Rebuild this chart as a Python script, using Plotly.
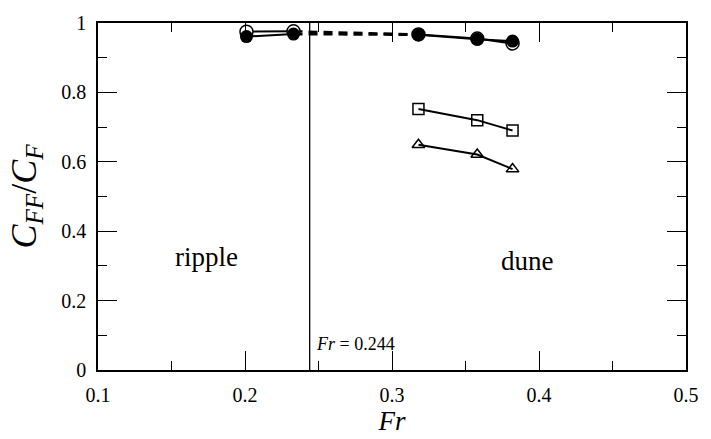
import plotly.graph_objects as go

# Data
fr_low = [0.201, 0.233]
fr_high = [0.318, 0.358, 0.382]
filled_low = [0.961, 0.968]
filled_high = [0.966, 0.953, 0.948]
open_low = [0.975, 0.976]
open_high = [0.967, 0.955, 0.941]
square_vals = [0.752, 0.720, 0.690]
triangle_vals = [0.649, 0.621, 0.579]
fr_critical = 0.244

xticks = [0.1, 0.2, 0.3, 0.4, 0.5]
yticks = [0, 0.2, 0.4, 0.6, 0.8, 1]
ytick_text = ["0", "0.2", "0.4", "0.6", "0.8", "1"]

FONT = "Liberation Serif"
fig = go.Figure()

# dashed connections across the transition
fig.add_trace(go.Scatter(x=[fr_low[-1], fr_high[0]], y=[open_low[-1], open_high[0]],
                         mode="lines", line=dict(color="black", width=2.5, dash="9px,6px"),
                         showlegend=False))
fig.add_trace(go.Scatter(x=[fr_low[-1], fr_high[0]], y=[filled_low[-1], filled_high[0]],
                         mode="lines", line=dict(color="black", width=2.5, dash="9px,6px"),
                         showlegend=False))

for xs, ys in [(fr_low, open_low), (fr_high, open_high)]:
    fig.add_trace(go.Scatter(x=xs, y=ys, mode="lines+markers",
                             line=dict(color="black", width=2),
                             marker=dict(symbol="circle", size=13, color="white",
                                         line=dict(color="black", width=1.5)),
                             showlegend=False))
for xs, ys in [(fr_low, filled_low), (fr_high, filled_high)]:
    fig.add_trace(go.Scatter(x=xs, y=ys, mode="lines+markers",
                             line=dict(color="black", width=2),
                             marker=dict(symbol="circle", size=13, color="black"),
                             showlegend=False))

fig.add_trace(go.Scatter(x=fr_high, y=square_vals, mode="lines+markers",
                         line=dict(color="black", width=2),
                         marker=dict(symbol="square-open", size=11, color="black",
                                     line=dict(width=1.5)),
                         showlegend=False))
fig.add_trace(go.Scatter(x=fr_high, y=triangle_vals, mode="lines+markers",
                         line=dict(color="black", width=2),
                         marker=dict(symbol="triangle-up-open", size=11, color="black",
                                     line=dict(width=1.5)),
                         showlegend=False))

# critical Froude number line
fig.add_trace(go.Scatter(x=[fr_critical, fr_critical], y=[0, 1], mode="lines",
                         line=dict(color="black", width=1.3), showlegend=False))

axis_common = dict(showline=True, linecolor="black", linewidth=1.5, mirror="ticks",
                   ticks="inside", ticklen=19, tickwidth=1.2, tickcolor="black",
                   showgrid=False, zeroline=False,
                   tickfont=dict(family=FONT, size=20, color="black"))

fig.update_xaxes(range=[0.1, 0.5], tickvals=xticks, ticktext=[str(v) for v in xticks],
                 minor=dict(ticks="inside", ticklen=9, tickwidth=1.2, tickcolor="black",
                            dtick=0.05, tick0=0.1),
                 ticklabelstandoff=6,
                 title=dict(text="<i>Fr</i>", font=dict(family=FONT, size=27, color="black"),
                            standoff=2),
                 **axis_common)
fig.update_yaxes(range=[0, 1], tickvals=yticks, ticktext=ytick_text,
                 minor=dict(ticks="inside", ticklen=9, tickwidth=1.2, tickcolor="black",
                            dtick=0.1, tick0=0),
                 ticklabelstandoff=6,
                 title=dict(text="<i>C<sub>FF</sub></i>/<i>C<sub>F</sub></i>",
                            font=dict(family=FONT, size=36, color="black"), standoff=14),
                 **axis_common)

fig.add_annotation(x=0.174, y=0.325, text="ripple", showarrow=False,
                   font=dict(family=FONT, size=27, color="black"))
fig.add_annotation(x=0.392, y=0.315, text="dune", showarrow=False,
                   font=dict(family=FONT, size=27, color="black"))
fig.add_annotation(x=fr_critical + 0.003, y=0.075, text="<i>Fr</i> = 0.244", showarrow=False,
                   xanchor="left", font=dict(family=FONT, size=18, color="black"))

fig.update_layout(width=711, height=439, margin=dict(l=98, r=16, t=17, b=60),
                  plot_bgcolor="white", paper_bgcolor="white")

fig.write_html("out.html")
